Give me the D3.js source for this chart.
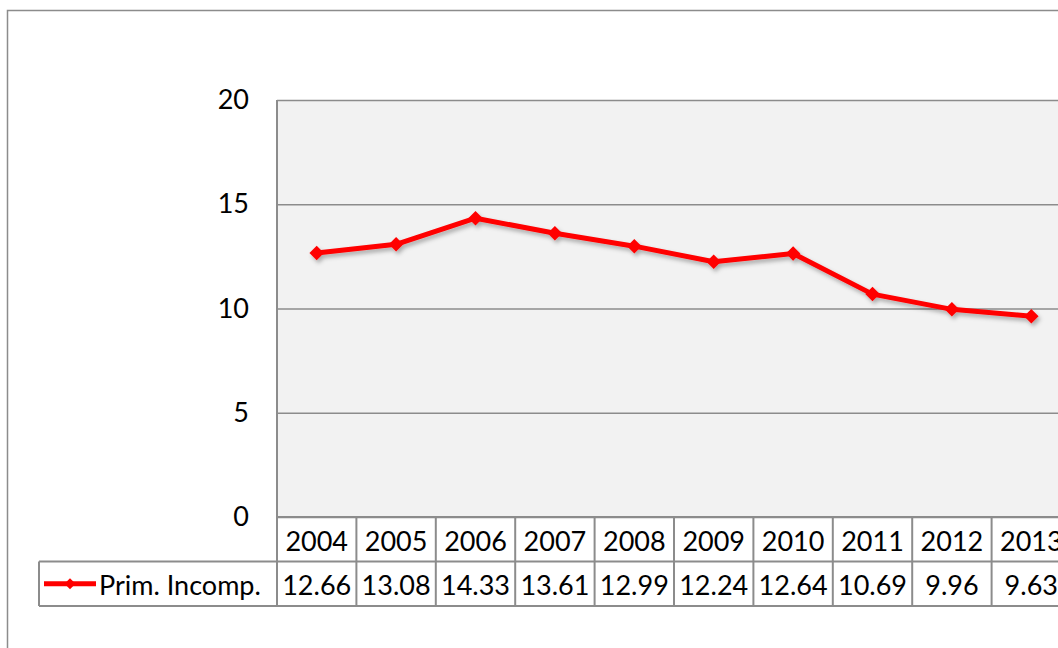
<!DOCTYPE html>
<html>
<head>
<meta charset="utf-8">
<script src="https://cdn.jsdelivr.net/npm/d3@7"></script>
<style>
  html, body { margin: 0; padding: 0; background: #fff; }
  svg { display: block; font-family: Lato, "Open Sans", sans-serif; }
</style>
</head>
<body>
<svg id="chart" width="1058" height="648"></svg>
<script>
const years = ["2004","2005","2006","2007","2008","2009","2010","2011","2012","2013"];
const values = [12.66, 13.08, 14.33, 13.61, 12.99, 12.24, 12.64, 10.69, 9.96, 9.63];
const valueLabels = ["12.66","13.08","14.33","13.61","12.99","12.24","12.64","10.69","9.96","9.63"];
const seriesName = "Prim. Incomp.";
const yTicks = [0, 5, 10, 15, 20];

const svg = d3.select("#chart");
const plotLeft = 277, plotRight = 1071, plotTop = 100, plotBottom = 517;
const rowH = 44.5;
const gridColor = "#8c8c8c";
const fs = 27;

// outer chart border
svg.append("rect").attr("x", 7.5).attr("y", 10.5).attr("width", 1200).attr("height", 800)
  .attr("fill", "#fff").attr("stroke", "#8c8c8c").attr("stroke-width", 1.5);

const x = d3.scaleBand().domain(years).range([plotLeft, plotRight]);
const y = d3.scaleLinear().domain([0, 20]).range([plotBottom, plotTop]);

// plot area
svg.append("rect").attr("x", plotLeft).attr("y", plotTop)
  .attr("width", plotRight - plotLeft).attr("height", plotBottom - plotTop)
  .attr("fill", "#f2f2f2");

// gridlines
const grid = svg.append("g").attr("transform", `translate(${plotLeft},0)`)
  .call(d3.axisLeft(y).tickValues(yTicks).tickSize(-(plotRight - plotLeft)).tickFormat(""));
grid.select(".domain").remove();
grid.selectAll(".tick line").attr("stroke", gridColor).attr("stroke-width", 1.5);

// y axis labels
const yAxis = svg.append("g").attr("transform", `translate(${plotLeft - 28},0)`)
  .call(d3.axisLeft(y).tickValues(yTicks).tickSize(0).tickPadding(0));
yAxis.select(".domain").remove();
yAxis.selectAll(".tick text").attr("font-size", fs).attr("fill", "#000")
  .attr("font-family", "Lato, 'Open Sans', sans-serif");

// left plot border
svg.append("line").attr("x1", plotLeft).attr("x2", plotLeft).attr("y1", plotTop).attr("y2", plotBottom)
  .attr("stroke", gridColor).attr("stroke-width", 2);

// data table
const tbl = svg.append("g");
const r1Top = plotBottom, r2Top = plotBottom + rowH, r2Bot = plotBottom + 2 * rowH;
const legendLeft = 39;
[[plotLeft, plotRight, r1Top], [legendLeft, plotRight, r2Top], [legendLeft, plotRight, r2Bot]].forEach(([a, b, yy]) => {
  tbl.append("line").attr("x1", a).attr("x2", b).attr("y1", yy).attr("y2", yy)
    .attr("stroke", gridColor).attr("stroke-width", 2);
});
tbl.append("line").attr("x1", legendLeft).attr("x2", legendLeft).attr("y1", r2Top).attr("y2", r2Bot)
  .attr("stroke", gridColor).attr("stroke-width", 2);
years.concat(["_end"]).forEach((yr, i) => {
  const xx = i < years.length ? x(yr) : plotRight;
  tbl.append("line").attr("x1", xx).attr("x2", xx).attr("y1", r1Top).attr("y2", r2Bot)
    .attr("stroke", gridColor).attr("stroke-width", 2);
});
tbl.selectAll("text.yr").data(years).join("text").attr("class", "yr")
  .attr("x", d => x(d) + x.bandwidth() / 2).attr("y", r1Top + rowH / 2 + 1)
  .attr("text-anchor", "middle").attr("dominant-baseline", "central")
  .attr("font-size", fs).text(d => d);
tbl.selectAll("text.val").data(valueLabels).join("text").attr("class", "val")
  .attr("x", (d, i) => x(years[i]) + x.bandwidth() / 2).attr("y", r2Top + rowH / 2 + 1)
  .attr("text-anchor", "middle").attr("dominant-baseline", "central")
  .attr("font-size", fs).text(d => d);

// diamond marker (rotated square)
const marker = s => d3.symbol().type(d3.symbolSquare).size(s);

// legend key
const ly = r2Top + rowH / 2;
tbl.append("line").attr("x1", 44).attr("x2", 96).attr("y1", ly).attr("y2", ly)
  .attr("stroke", "#ff0000").attr("stroke-width", 5);
tbl.append("path").attr("d", marker(60)).attr("transform", `translate(70,${ly}) rotate(45)`).attr("fill", "#ff0000");
tbl.append("text").attr("x", 99).attr("y", ly + 1).attr("dominant-baseline", "central")
  .attr("font-size", fs).text(seriesName);

// series
const defs = svg.append("defs");
const f = defs.append("filter").attr("id", "shadow").attr("x", "-20%").attr("y", "-30%").attr("width", "140%").attr("height", "180%");
f.append("feDropShadow").attr("dx", 2).attr("dy", 3).attr("stdDeviation", 2)
  .attr("flood-color", "#000").attr("flood-opacity", 0.3);

const pts = years.map((yr, i) => ({ yr, v: values[i] }));
const line = d3.line().x(d => x(d.yr) + x.bandwidth() / 2).y(d => y(d.v));
const sg = svg.append("g").attr("filter", "url(#shadow)");
sg.append("path").datum(pts).attr("d", line).attr("fill", "none")
  .attr("stroke", "#ff0000").attr("stroke-width", 5).attr("stroke-linejoin", "round");
sg.selectAll("path.m").data(pts).join("path").attr("class", "m")
  .attr("d", marker(105))
  .attr("transform", d => `translate(${x(d.yr) + x.bandwidth() / 2},${y(d.v)}) rotate(45)`)
  .attr("fill", "#ff0000");
</script>
</body>
</html>
